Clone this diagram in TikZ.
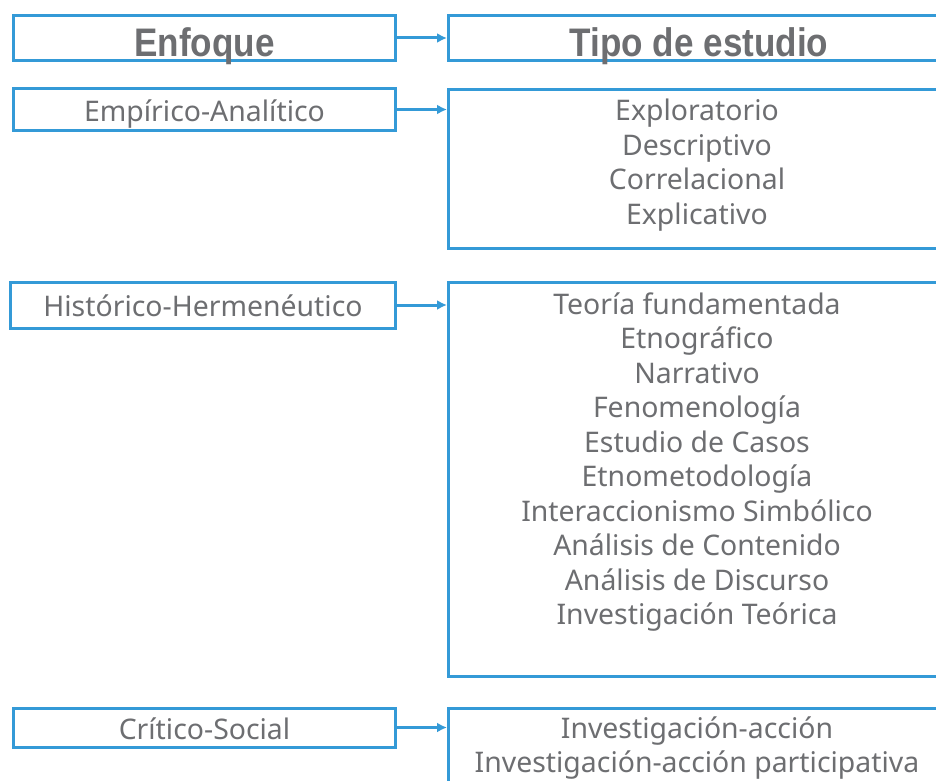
\documentclass[tikz,border=0pt]{standalone}
\usepackage{fontspec}
\setmainfont{Noto Sans}
\newfontfamily\headfont[FakeStretch=0.88]{Liberation Sans}
\usepackage{tikz}
\usetikzlibrary{arrows.meta, positioning}
\definecolor{framblue}{RGB}{52, 154, 215}
\definecolor{textgray}{RGB}{109, 110, 113}

\begin{document}
\begin{tikzpicture}[x=1bp, y=-1bp,
    box/.style={draw=framblue, line width=3bp, rectangle, inner sep=0pt, text=textgray},
    headtext/.style={font=\headfont\bfseries\fontsize{40}{46}\selectfont, text height=38bp, text depth=0bp},
    labeltext/.style={font=\fontsize{28.5}{34.6}\selectfont, text height=23bp, text depth=0bp},
    bodytext/.style={text=textgray, align=center, font=\fontsize{28.5}{34.6}\selectfont},
    conn/.style={draw=framblue, line width=3bp, -{Latex[length=10bp, width=10bp]}}]
  \useasboundingbox (0,0) rectangle (936,781);

  % Headers
  \node[box, headtext, minimum width=382bp, minimum height=45bp] (enf) at (204.5, 38) {Enfoque};
  \node[box, headtext, minimum width=501bp, minimum height=45bp] (tipo) at (699, 38) {Tipo de estudio};

  % Empirico-analitico
  \node[box, labeltext, minimum width=382bp, minimum height=41bp] (empan) at (204.5, 109.5) {Empírico-Analítico};
  \node[box, minimum width=501bp, minimum height=159bp] (empst) at (699, 169) {};
  \node[bodytext] (emptx) at (697, 165) {Exploratorio\\Descriptivo\\Correlacional\\Explicativo};

  % Historico-hermeneutico
  \node[box, labeltext, minimum width=385bp, minimum height=46bp] (hisher) at (203, 305) {Histórico-Hermenéutico};
  \node[box, minimum width=501bp, minimum height=394bp] (hisst) at (699, 479) {};
  \node[bodytext] (histx) at (697, 462) {Teoría fundamentada\\Etnográfico\\Narrativo\\Fenomenología\\Estudio de Casos\\Etnometodología\\Interaccionismo Simbólico\\Análisis de Contenido\\Análisis de Discurso\\Investigación Teórica};

  % Critico-social
  \node[box, labeltext, minimum width=382bp, minimum height=39bp] (critsoc) at (204.5, 727.5) {Crítico-Social};
  \node[box, minimum width=501bp, minimum height=130bp] (critst) at (699, 773) {};
  \node[bodytext] (crittx) at (697, 748) {Investigación-acción\\Investigación-acción participativa};

  % Connectors
  \draw[conn] (enf.east) -- (tipo.west);
  \draw[conn] (empan.east) -- (empan.east -| empst.west);
  \draw[conn] (hisher.east) -- (hisher.east -| hisst.west);
  \draw[conn] (critsoc.east) -- (critsoc.east -| critst.west);
\end{tikzpicture}
\end{document}
